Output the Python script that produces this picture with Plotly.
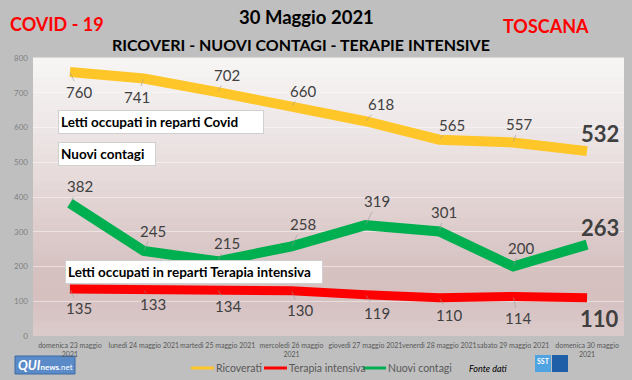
import plotly.graph_objects as go

# ---------------- data ----------------
dates = ["domenica 23 maggio<br>2021", "lunedì 24 maggio 2021", "martedì 25 maggio 2021",
         "mercoledì 26 maggio<br>2021", "giovedì 27 maggio 2021", "venerdì 28 maggio 2021",
         "sabato 29 maggio 2021", "domenica 30 maggio<br>2021"]
ricoverati = [760, 741, 702, 660, 618, 565, 557, 532]
terapia = [135, 133, 134, 130, 119, 110, 114, 110]
contagi = [382, 245, 215, 258, 319, 301, 200, 263]
y_ticks = [0, 100, 200, 300, 400, 500, 600, 700, 800]
series_names = ["Ricoverati", "Terapia intensiva", "Nuovi contagi"]

# label offsets (pixels) - styling only
ric_off = [(9, 20), (-7, 18), (9, -17), (11, -16), (16, -17), (13, -15), (6, -18), (13, -18)]
con_off = [(10, -17), (9, -20), (9, -18), (11, -22), (12, -24), (5, -19), (8, -19), (13, -17)]
ter_off = [(9, 19), (9, 14), (10, 17), (8, 19), (12, 18), (10, 17), (5, 22), (12, 21)]

YELLOW = "#FFC629"
RED = "#FF0000"
GREEN = "#00B050"
COLORS = [YELLOW, RED, GREEN]
FONT = "Lato"

L, R, T, B = 33, 8, 58, 44
W, H = 632, 380
PW, PH = W - L - R, H - T - B


def px(x):
    return (x - L) / PW


def py(y):
    return (H - B - y) / PH


fig = go.Figure()

for name, vals, col, w in [(series_names[0], ricoverati, YELLOW, 10),
                           (series_names[1], terapia, RED, 9),
                           (series_names[2], contagi, GREEN, 10)]:
    fig.add_trace(go.Scatter(x=dates, y=vals, mode="lines", name=name,
                             line=dict(color=col, width=w), showlegend=False,
                             hoverinfo="skip"))

# gradient background for the plot area
stops = [(0.0, (247, 245, 245)), (0.25, (238, 231, 231)), (0.5, (227, 213, 213)),
         (0.72, (216, 196, 196)), (0.85, (213, 191, 191)), (1.0, (219, 203, 203))]


def col_at(t):
    for (t0, c0), (t1, c1) in zip(stops[:-1], stops[1:]):
        if t0 <= t <= t1:
            f = (t - t0) / (t1 - t0) if t1 > t0 else 0
            return "rgb(%d,%d,%d)" % tuple(round(a + (b - a) * f) for a, b in zip(c0, c1))
    return "rgb(%d,%d,%d)" % stops[-1][1]


shapes = []
N = 40
for i in range(N):
    t = (i + 0.5) / N
    shapes.append(dict(type="rect", xref="x domain", yref="y domain",
                       x0=0, x1=1, y0=1 - (i + 1) / N, y1=1 - i / N + 0.002,
                       fillcolor=col_at(t), line=dict(width=0), layer="below"))

annotations = []


def add_labels(vals, offs, big_color="#404040"):
    for i, (v, (ox, oy)) in enumerate(zip(vals, offs)):
        last = i == len(vals) - 1
        if last:
            annotations.append(dict(x=dates[i], y=v, xref="x", yref="y", text="<b>%d</b>" % v,
                                    showarrow=False, xshift=ox, yshift=-oy,
                                    xanchor="center", yanchor="middle",
                                    font=dict(family=FONT, size=22, color=big_color)))
        else:
            annotations.append(dict(x=dates[i], y=v, xref="x", yref="y", text=str(v),
                                    showarrow=True, ax=ox, ay=oy, arrowhead=0,
                                    arrowwidth=0.6, arrowcolor="#9a9a9a", standoff=1,
                                    font=dict(family=FONT, size=15, color="#404040")))


add_labels(ricoverati, ric_off)
add_labels(contagi, con_off)
add_labels(terapia, ter_off)

# text boxes
for text, x0, x1, yc in [("Letti occupati in reparti Covid", 58, 268, 122),
                         ("Nuovi contagi", 58, 160, 153.5),
                         ("Letti occupati in reparti Terapia intensiva", 65, 327, 272)]:
    annotations.append(dict(x=px(x0), y=py(yc), xref="paper", yref="paper", xanchor="left",
                            yanchor="middle", text="<b>%s</b>" % text, showarrow=False,
                            align="left", width=x1 - x0 - 10, height=18, borderpad=2,
                            bgcolor="white", bordercolor="#d0d0d0", borderwidth=1,
                            font=dict(family=FONT, size=13.5, color="black")))


def ptext(x, y, text, size, color, **kw):
    d = dict(x=px(x), y=py(y), xref="paper", yref="paper", text=text, showarrow=False,
             xanchor="center", yanchor="middle", font=dict(family=FONT, size=size, color=color))
    d.update(kw)
    return d


# titles
annotations += [
    ptext(306, 17, "<b>30 Maggio 2021</b>", 18.5, "black"),
    ptext(301, 44, "<b>RICOVERI - NUOVI CONTAGI - TERAPIE INTENSIVE</b>", 16, "black"),
    ptext(57, 24, "<b>COVID - 19</b>", 18, "#FF0000"),
    ptext(546, 26, "<b>TOSCANA</b>", 18, "#FF0000"),
    ptext(488, 368, "<i>Fonte dati</i>", 9, "black"),
    ptext(45, 365, "<b><i>QUI</i></b><span style='font-size:8px'><b>news</b>.net</span>",
          13, "white"),
    ptext(543, 361, "<b>SST</b>", 7, "white"),
]

# manual legend
leg_x = [191, 264, 363]
leg_y = 368
for name, col, x0 in zip(series_names, COLORS, leg_x):
    shapes.append(dict(type="line", xref="paper", yref="paper", x0=px(x0), x1=px(x0 + 23),
                       y0=py(leg_y), y1=py(leg_y), line=dict(color=col, width=3)))
    annotations.append(ptext(x0 + 23, leg_y, name, 10.5, "#595959", xanchor="left"))

# logos (approximate)
shapes += [
    dict(type="rect", xref="paper", yref="paper", x0=px(15), x1=px(75), y0=py(374), y1=py(356),
         fillcolor="#5a8bc8", line=dict(color="#3d6aa5", width=1), layer="below"),
    dict(type="rect", xref="paper", yref="paper", x0=px(535), x1=px(551), y0=py(372), y1=py(355),
         fillcolor="#4fa3e0", line=dict(width=0), layer="below"),
    dict(type="rect", xref="paper", yref="paper", x0=px(552), x1=px(568), y0=py(372), y1=py(355),
         fillcolor="#1f5fa8", line=dict(width=0), layer="below"),
]

fig.update_layout(
    width=W, height=H,
    margin=dict(l=L, r=R, t=T, b=B, pad=0, autoexpand=False),
    paper_bgcolor="#BFBFBF",
    plot_bgcolor="#e8dede",
    font=dict(family=FONT, color="#595959"),
    shapes=shapes,
    annotations=annotations,
    showlegend=False,
    xaxis=dict(type="category", showgrid=False, zeroline=False, showline=False,
               tickfont=dict(family=FONT, size=7, color="#595959"), ticks="",
               tickangle=0, automargin=False, range=[-0.5, len(dates) - 0.5],
               ticklabelstandoff=4),
    yaxis=dict(range=[0, 800], tickvals=y_ticks, showgrid=True,
               gridcolor="rgba(255,255,255,0.45)", gridwidth=1, zeroline=False,
               showline=False, tickfont=dict(family=FONT, size=8, color="#7f7f7f"),
               ticks="", ticklabelstandoff=4, automargin=False),
)

fig.write_html("out.html", config={"displayModeBar": False},
               post_script="document.body.style.margin='0';")
